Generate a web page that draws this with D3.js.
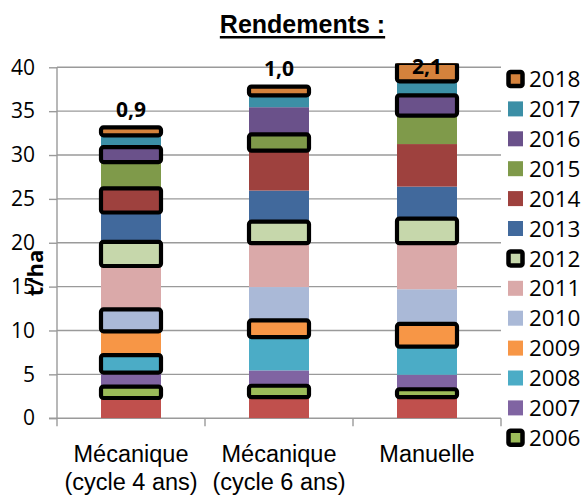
<!DOCTYPE html>
<html>
<head>
<meta charset="utf-8">
<script src="https://cdn.jsdelivr.net/npm/d3@7"></script>
<style>
  html, body { margin: 0; padding: 0; background: #fff; }
  svg { display: block; }
</style>
</head>
<body>
<svg id="chart" width="585" height="496"></svg>
<script>
// ---- data ----
const categories = ["Mécanique (cycle 4 ans)", "Mécanique (cycle 6 ans)", "Manuelle"];
const categoryLines = [["Mécanique", "(cycle 4 ans)"], ["Mécanique", "(cycle 6 ans)"], ["Manuelle"]];
const years = ["2005","2006","2007","2008","2009","2010","2011","2012","2013","2014","2015","2016","2017","2018"];
const legendYears = ["2018","2017","2016","2015","2014","2013","2012","2011","2010","2009","2008","2007","2006"];
const legendBordered = ["2018","2012","2006"];
const v2005 = [2.3, 2.4, 2.4];
const v2006 = [1.3, 1.3, 0.9];
const v2007 = [1.6, 1.75, 1.65];
const v2008 = [2.0, 3.8, 3.2];
const v2009 = [2.7, 1.9, 2.6];
const v2010 = [2.5, 3.8, 3.95];
const v2011 = [4.95, 5.0, 5.25];
const v2012 = [2.75, 2.45, 2.8];
const v2013 = [3.35, 3.55, 3.65];
const v2014 = [2.75, 4.55, 4.85];
const v2015 = [3.0, 1.85, 3.25];
const v2016 = [1.7, 3.1, 2.3];
const v2017 = [1.35, 1.35, 1.6];
const v2018 = [0.9, 1.0, 2.1];
const harvestYears = [
  ["2006","2008","2010","2012","2014","2016","2018"],
  ["2006","2009","2012","2015","2018"],
  ["2006","2009","2012","2016","2018"]
];
const yTicks = [0, 5, 10, 15, 20, 25, 30, 35, 40];
const colors = ["#C0504D","#9BBB59","#8064A2","#4BACC6","#F79646","#AAB9D7","#DAA9A9","#C6D7AB","#41699C","#9E413E","#7F9A4A","#6A518A","#3C8FA6","#D5823C"];

// ---- build table ----
const seriesValues = [v2005,v2006,v2007,v2008,v2009,v2010,v2011,v2012,v2013,v2014,v2015,v2016,v2017,v2018];
const table = categories.map((c, i) => {
  const row = { cat: c, idx: i };
  years.forEach((yr, k) => row[yr] = seriesValues[k][i]);
  return row;
});
const color = d3.scaleOrdinal().domain(years).range(colors);

const svg = d3.select("#chart");
const plot = { left: 57, right: 501, top: 67.3, bottom: 418.2 };

const x = d3.scaleBand().domain(categories).range([plot.left, plot.right])
  .paddingInner(0.5946).paddingOuter(0.2973);
const xCat = d3.scaleBand().domain(categories).range([plot.left, plot.right]).padding(0);
const y = d3.scaleLinear().domain([0, 40]).range([plot.bottom, plot.top]);

const tickFont = "'Open Sans', sans-serif";

// gridlines + y ticks
const yAxis = d3.axisLeft(y).tickValues(yTicks).tickSize(8).tickPadding(14);
const gy = svg.append("g").attr("transform", `translate(${plot.left},0)`).call(yAxis);
gy.select(".domain").remove();
gy.selectAll(".tick line").attr("stroke", "#9a9a9a").attr("stroke-width", 1.4);
gy.selectAll(".tick text").attr("font-family", tickFont).attr("font-size", "21px").attr("fill", "#000");
svg.append("g").selectAll("line").data(yTicks.filter(t => t > 0)).join("line")
  .attr("x1", plot.left).attr("x2", plot.right)
  .attr("y1", d => y(d)).attr("y2", d => y(d))
  .attr("stroke", "#9a9a9a").attr("stroke-width", 1.4);

// y axis line
svg.append("line").attr("x1", plot.left).attr("x2", plot.left)
  .attr("y1", plot.top).attr("y2", plot.bottom + 8)
  .attr("stroke", "#9a9a9a").attr("stroke-width", 1.4);
// x axis
svg.append("line").attr("x1", plot.left - 8).attr("x2", plot.right)
  .attr("y1", plot.bottom).attr("y2", plot.bottom)
  .attr("stroke", "#9a9a9a").attr("stroke-width", 1.4);
const boundaries = categories.map(c => xCat(c) + xCat.bandwidth());
svg.append("g").selectAll("line").data(boundaries).join("line")
  .attr("x1", d => d).attr("x2", d => d)
  .attr("y1", plot.bottom).attr("y2", plot.bottom + 8)
  .attr("stroke", "#9a9a9a").attr("stroke-width", 1.4);

// category labels
const catG = svg.append("g");
categories.forEach((c, i) => {
  const t = catG.append("text")
    .attr("x", xCat(c) + xCat.bandwidth() / 2)
    .attr("y", 461.5)
    .attr("text-anchor", "middle")
    .attr("font-family", "'Liberation Sans', Arial, sans-serif")
    .attr("font-size", "23.5px").attr("fill", "#000");
  categoryLines[i].forEach((line, j) => {
    t.append("tspan").attr("x", xCat(c) + xCat.bandwidth() / 2)
      .attr("dy", j === 0 ? 0 : 28).text(line);
  });
});

// clip
svg.append("clipPath").attr("id", "clip").append("rect")
  .attr("x", plot.left).attr("y", plot.top - 4)
  .attr("width", plot.right - plot.left).attr("height", plot.bottom - plot.top + 4);

// bars
const stack = d3.stack().keys(years);
const stacked = stack(table);
const barsG = svg.append("g").attr("clip-path", "url(#clip)");
stacked.forEach(s => {
  barsG.append("g").selectAll("rect").data(s).join("rect")
    .attr("x", d => x(d.data.cat))
    .attr("width", x.bandwidth())
    .attr("y", d => y(d[1]))
    .attr("height", d => y(d[0]) - y(d[1]))
    .attr("fill", color(s.key));
});
// bordered (harvest) segments on top
stacked.forEach(s => {
  barsG.append("g").selectAll("rect")
    .data(s.filter(d => harvestYears[d.data.idx].includes(s.key)))
    .join("rect")
    .attr("x", d => x(d.data.cat))
    .attr("width", x.bandwidth())
    .attr("y", d => y(d[1]))
    .attr("height", d => y(d[0]) - y(d[1]))
    .attr("rx", 2.5)
    .attr("fill", color(s.key))
    .attr("stroke", "#000").attr("stroke-width", 4.2);
});

// data labels (2018 values)
const topSeries = stacked[stacked.length - 1];
svg.append("g").selectAll("text").data(topSeries).join("text")
  .attr("x", d => x(d.data.cat) + x.bandwidth() / 2)
  .attr("y", d => Math.max(y(d[1]) - 10.5, 73.5))
  .attr("text-anchor", "middle")
  .attr("font-family", tickFont).attr("font-weight", "bold").attr("font-size", "21px")
  .attr("fill", "#000")
  .text(d => d3.format(".1f")(d.data["2018"]).replace(".", ","));

// y axis title
svg.append("text")
  .attr("transform", "translate(43,273) rotate(-90)")
  .attr("text-anchor", "middle")
  .attr("font-family", tickFont).attr("font-weight", "bold").attr("font-size", "22px")
  .attr("fill", "#000").text("t/ha");

// title
const title = svg.append("text")
  .attr("x", 302.5).attr("y", 33)
  .attr("text-anchor", "middle")
  .attr("font-family", "'Liberation Sans', Arial, sans-serif")
  .attr("font-weight", "bold").attr("font-size", "25px")
  .attr("fill", "#000").text("Rendements :");
const tw = title.node().getComputedTextLength();
svg.append("line").attr("x1", 302.5 - tw / 2).attr("x2", 302.5 + tw / 2)
  .attr("y1", 37.2).attr("y2", 37.2).attr("stroke", "#000").attr("stroke-width", 2.4);

// legend
const lg = svg.append("g");
legendYears.forEach((yr, i) => {
  const cy = 79 + i * 29.9;
  const bordered = legendBordered.includes(yr);
  lg.append("rect")
    .attr("x", bordered ? 508.5 : 508).attr("y", cy - (bordered ? 7 : 7.5))
    .attr("width", bordered ? 14 : 15).attr("height", bordered ? 14 : 15)
    .attr("rx", bordered ? 2 : 0)
    .attr("fill", color(yr))
    .attr("stroke", bordered ? "#000" : "none")
    .attr("stroke-width", bordered ? 4.5 : 0);
  lg.append("text")
    .attr("x", 529).attr("y", cy).attr("dy", "0.36em")
    .attr("font-family", tickFont).attr("font-size", "22.5px").attr("fill", "#000")
    .text(yr);
});
</script>
</body>
</html>
